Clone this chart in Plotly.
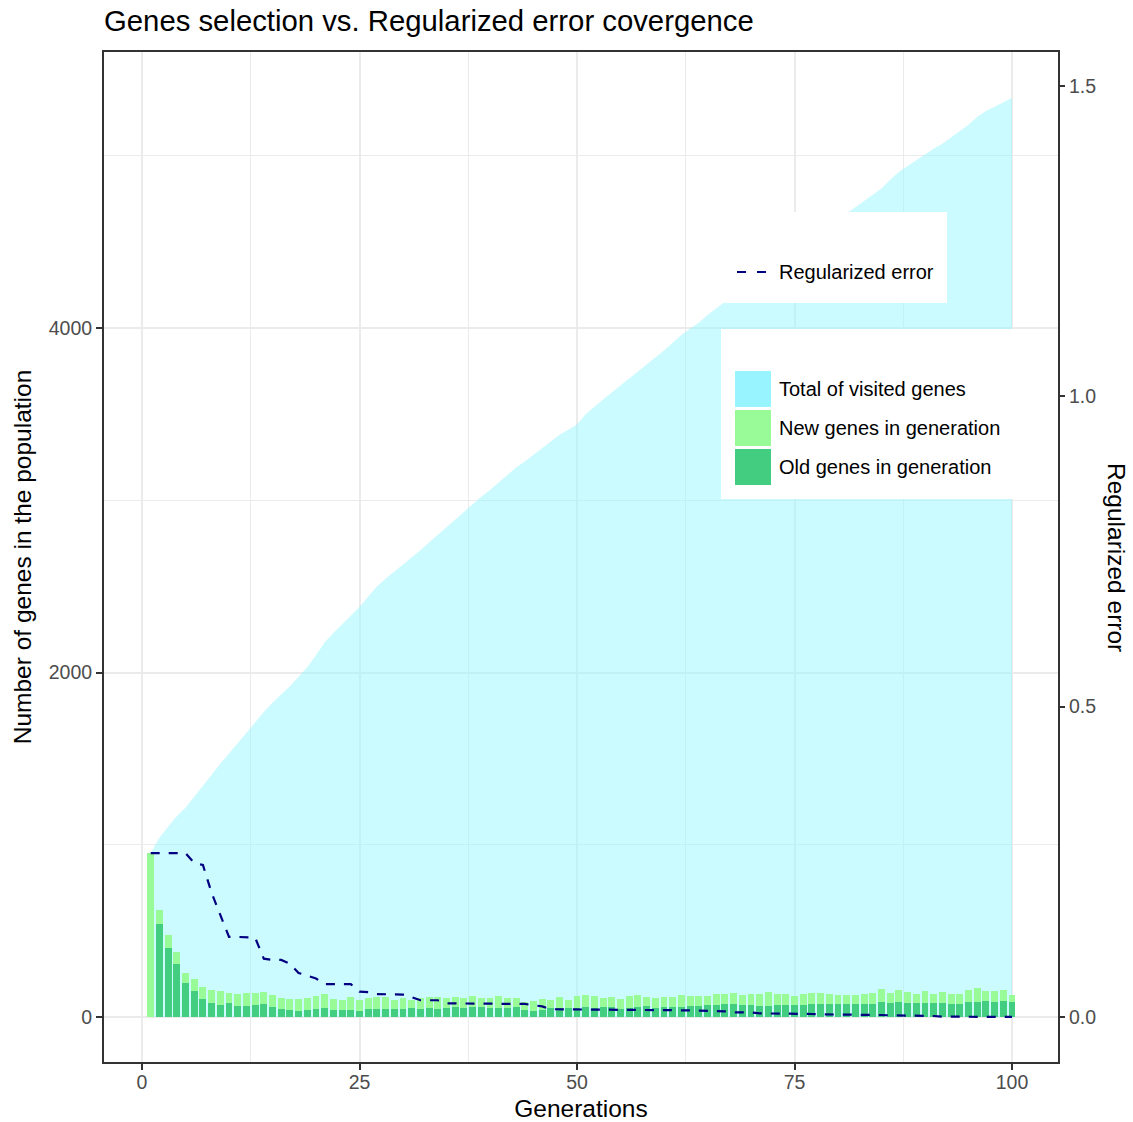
import plotly.graph_objects as go

# ---------------- data ----------------
generations = list(range(1, 101))

total_visited = [
    952, 1040, 1105, 1165, 1215, 1280, 1340, 1405, 1470, 1530,
    1590, 1655, 1710, 1770, 1825, 1870, 1920, 1975, 2030, 2100,
    2175, 2230, 2280, 2330, 2380, 2440, 2500, 2545, 2585, 2625,
    2665, 2710, 2755, 2800, 2845, 2890, 2935, 2980, 3020, 3060,
    3105, 3150, 3190, 3225, 3265, 3305, 3345, 3380, 3410, 3440,
    3500, 3545, 3585, 3625, 3665, 3705, 3750, 3790, 3830, 3870,
    3915, 3960, 3995, 4030, 4075, 4115, 4150, 4190, 4225, 4265,
    4300, 4340, 4375, 4410, 4445, 4480, 4520, 4560, 4600, 4635,
    4665, 4700, 4740, 4770, 4810, 4860, 4905, 4940, 4975, 5010,
    5040, 5070, 5105, 5140, 5180, 5225, 5260, 5285, 5310, 5335,
]

old_genes = [
    0, 540, 402, 308, 197, 151, 104, 81, 70, 81,
    64, 64, 70, 75, 58, 46, 41, 35, 41, 46,
    52, 41, 41, 41, 35, 46, 46, 46, 46, 46,
    52, 46, 52, 46, 50, 60, 54, 60, 60, 54,
    54, 54, 60, 41, 35, 41, 54, 54, 54, 54,
    60, 54, 60, 60, 46, 54, 60, 64, 54, 60,
    60, 60, 64, 64, 70, 70, 75, 75, 70, 70,
    64, 64, 70, 70, 70, 70, 75, 75, 75, 75,
    75, 75, 75, 75, 87, 81, 87, 81, 81, 81,
    81, 81, 75, 75, 87, 87, 93, 87, 93, 87,
]

new_genes = [
    954, 81, 74, 69, 58, 70, 70, 76, 81, 58,
    70, 75, 69, 70, 70, 64, 63, 69, 69, 76,
    82, 63, 58, 75, 64, 64, 70, 70, 53, 64,
    47, 64, 64, 70, 62, 56, 54, 62, 50, 56,
    68, 56, 50, 46, 58, 63, 45, 62, 45, 68,
    68, 68, 50, 56, 58, 68, 68, 52, 56, 56,
    56, 68, 58, 58, 52, 64, 59, 64, 58, 64,
    70, 81, 64, 64, 52, 64, 64, 64, 59, 53,
    53, 53, 59, 64, 76, 58, 70, 64, 53, 70,
    53, 64, 59, 59, 70, 81, 58, 64, 64, 41,
]

regularized_error = [
    0.264, 0.264, 0.264, 0.264, 0.264, 0.248, 0.245, 0.200, 0.163, 0.129,
    0.129, 0.129, 0.128, 0.094, 0.092, 0.092, 0.086, 0.071, 0.067, 0.062,
    0.053, 0.053, 0.053, 0.053, 0.041, 0.040, 0.037, 0.037, 0.037, 0.036,
    0.032, 0.027, 0.027, 0.027, 0.022, 0.022, 0.022, 0.022, 0.022, 0.022,
    0.022, 0.022, 0.022, 0.021, 0.019, 0.017, 0.0125, 0.0124, 0.0124, 0.0124,
    0.0124, 0.0124, 0.0124, 0.0124, 0.0124, 0.0124, 0.0113, 0.0113, 0.0113, 0.0113,
    0.0107, 0.0107, 0.0107, 0.0102, 0.0102, 0.0091, 0.0091, 0.0075, 0.0075, 0.0075,
    0.0059, 0.0059, 0.0059, 0.0059, 0.0048, 0.0048, 0.0048, 0.0043, 0.0043, 0.0043,
    0.0043, 0.0043, 0.0043, 0.0032, 0.0032, 0.0027, 0.0027, 0.0021, 0.0021, 0.0016,
    0.0016, 0.0006, 0.0006, 0.0006, 0.0002, 0.0002, 0.0002, 0.0002, 0.0001, 0.0001,
]

x_ticks = [0, 25, 50, 75, 100]
y_ticks = [0, 2000, 4000]
y_err_ticks = [0, 0.5, 1.0, 1.5]
y_err_ticklabels = ["0.0", "0.5", "1.0", "1.5"]

legend_line_label = "Regularized error"
legend_fill_labels = ["Total of visited genes", "New genes in generation", "Old genes in generation"]

# ---------------- style ----------------
FONT = "Liberation Sans, Arial, Helvetica, sans-serif"
C_AREA = "rgba(152,245,255,0.5)"
C_AREA_KEY = "#98F5FF"
C_NEW = "#98FB98"
C_OLD = "#43CD80"
C_ERR = "#000080"
GRID = "#EBEBEB"
W, H = 1133, 1122
ML, MR, MT, MB = 104, 75, 52, 60
PW, PH = W - ML - MR, H - MT - MB
Y_RANGE = [-261.2, 5602.3]


def px_x(px):
    return (px - ML) / PW


def px_y(py):
    return (H - MB - py) / PH


fig = go.Figure()

# area on the base axis (drawn first, under the bars)
fig.add_trace(go.Scatter(
    x=generations, y=total_visited, mode="lines", fill="tozeroy",
    fillcolor=C_AREA, line=dict(width=0, color=C_AREA), name=legend_fill_labels[0],
    showlegend=False,
))
# bars on an overlaying copy of the genes axis so they sit above the area
fig.add_trace(go.Bar(
    x=generations, y=old_genes, yaxis="y2", marker=dict(color=C_OLD, line=dict(width=0)),
    width=0.8, name=legend_fill_labels[2], showlegend=False,
))
fig.add_trace(go.Bar(
    x=generations, y=new_genes, yaxis="y2", marker=dict(color=C_NEW, line=dict(width=0)),
    width=0.8, name=legend_fill_labels[1], showlegend=False,
))
# error line on the right-hand axis
fig.add_trace(go.Scatter(
    x=generations, y=regularized_error, mode="lines", yaxis="y3",
    line=dict(color=C_ERR, width=2.2, dash="9px,9px"), name=legend_line_label,
    showlegend=False,
))

tickfont = dict(family=FONT, size=19.5, color="#4D4D4D")

fig.update_layout(
    width=W, height=H,
    margin=dict(l=ML, r=MR, t=MT, b=MB, autoexpand=False),
    paper_bgcolor="white", plot_bgcolor="white",
    barmode="stack", bargap=0,
    font=dict(family=FONT, color="black"),
    title=dict(text="Genes selection vs. Regularized error covergence",
               font=dict(family=FONT, size=29.3, color="black"),
               x=0, xref="paper", xanchor="left",
               y=1 - 21 / H, yref="container", yanchor="middle"),
    xaxis=dict(
        range=[-4.368, 105.287], tickvals=x_ticks, ticks="outside", ticklen=6,
        tickwidth=2, tickcolor="#333333", tickfont=tickfont, ticklabelstandoff=-4,
        showgrid=True, gridcolor=GRID, gridwidth=2, zeroline=False,
        showline=True, mirror=True, linecolor="#333333", linewidth=2,
        minor=dict(tickvals=[12.5, 37.5, 62.5, 87.5], showgrid=True,
                   gridcolor=GRID, gridwidth=1, ticks=""),
        title=dict(text="Generations", font=dict(family=FONT, size=24.5, color="black"),
                   standoff=10),
        automargin=False,
    ),
    yaxis=dict(
        range=Y_RANGE, tickvals=y_ticks, ticks="outside", ticklen=6,
        tickwidth=2, tickcolor="#333333", tickfont=tickfont,
        showgrid=True, gridcolor=GRID, gridwidth=2, zeroline=False,
        showline=True, mirror=True, linecolor="#333333", linewidth=2,
        minor=dict(tickvals=[1000, 3000, 5000], showgrid=True,
                   gridcolor=GRID, gridwidth=1, ticks=""),
        title=dict(text="Number of genes in the population",
                   font=dict(family=FONT, size=24.5, color="black"), standoff=10),
        automargin=False,
    ),
    yaxis2=dict(
        overlaying="y", range=Y_RANGE, visible=False, showgrid=False, zeroline=False,
    ),
    yaxis3=dict(
        overlaying="y", side="right", range=[-0.0725, 1.5548],
        tickvals=y_err_ticks, ticktext=y_err_ticklabels, ticks="outside", ticklen=6,
        tickwidth=2, tickcolor="#333333", tickfont=tickfont,
        showgrid=False, zeroline=False, showline=False, automargin=False,
    ),
    showlegend=False,
)

# right axis title (reads top to bottom as in the reference)
fig.add_annotation(
    text="Regularized error", textangle=90, xref="paper", yref="paper",
    x=px_x(1117), y=0.5, xanchor="center", yanchor="middle", showarrow=False,
    font=dict(family=FONT, size=24.5, color="black"),
)

# ---------------- legends (drawn as layout boxes) ----------------
shapes = []
shapes.append(dict(type="rect", xref="paper", yref="paper", layer="above",
                   x0=px_x(721), x1=px_x(947), y0=px_y(303), y1=px_y(212),
                   fillcolor="white", line=dict(width=0)))
shapes.append(dict(type="line", xref="paper", yref="paper", layer="above",
                   x0=px_x(737), x1=px_x(766), y0=px_y(272), y1=px_y(272),
                   line=dict(color=C_ERR, width=2.2, dash="9px,11px")))
shapes.append(dict(type="rect", xref="paper", yref="paper", layer="above",
                   x0=px_x(721), x1=px_x(1013), y0=px_y(499), y1=px_y(329),
                   fillcolor="white", line=dict(width=0)))
key_colors = [C_AREA_KEY, C_NEW, C_OLD]
key_tops = [371, 410, 449]
for col, top in zip(key_colors, key_tops):
    shapes.append(dict(type="rect", xref="paper", yref="paper", layer="above",
                       x0=px_x(735), x1=px_x(771), y0=px_y(top + 36), y1=px_y(top),
                       fillcolor=col, line=dict(width=0)))
fig.update_layout(shapes=shapes)

legend_font = dict(family=FONT, size=20, color="black")
fig.add_annotation(text=legend_line_label, xref="paper", yref="paper",
                   x=px_x(777), y=px_y(272), xanchor="left", yanchor="middle",
                   showarrow=False, font=legend_font)
for lab, top in zip(legend_fill_labels, key_tops):
    fig.add_annotation(text=lab, xref="paper", yref="paper",
                       x=px_x(777), y=px_y(top + 18), xanchor="left", yanchor="middle",
                       showarrow=False, font=legend_font)

fig.write_html(
    "out.html",
    config={"displayModeBar": False},
    post_script="document.body.style.margin='0';document.body.style.overflow='hidden';",
)
